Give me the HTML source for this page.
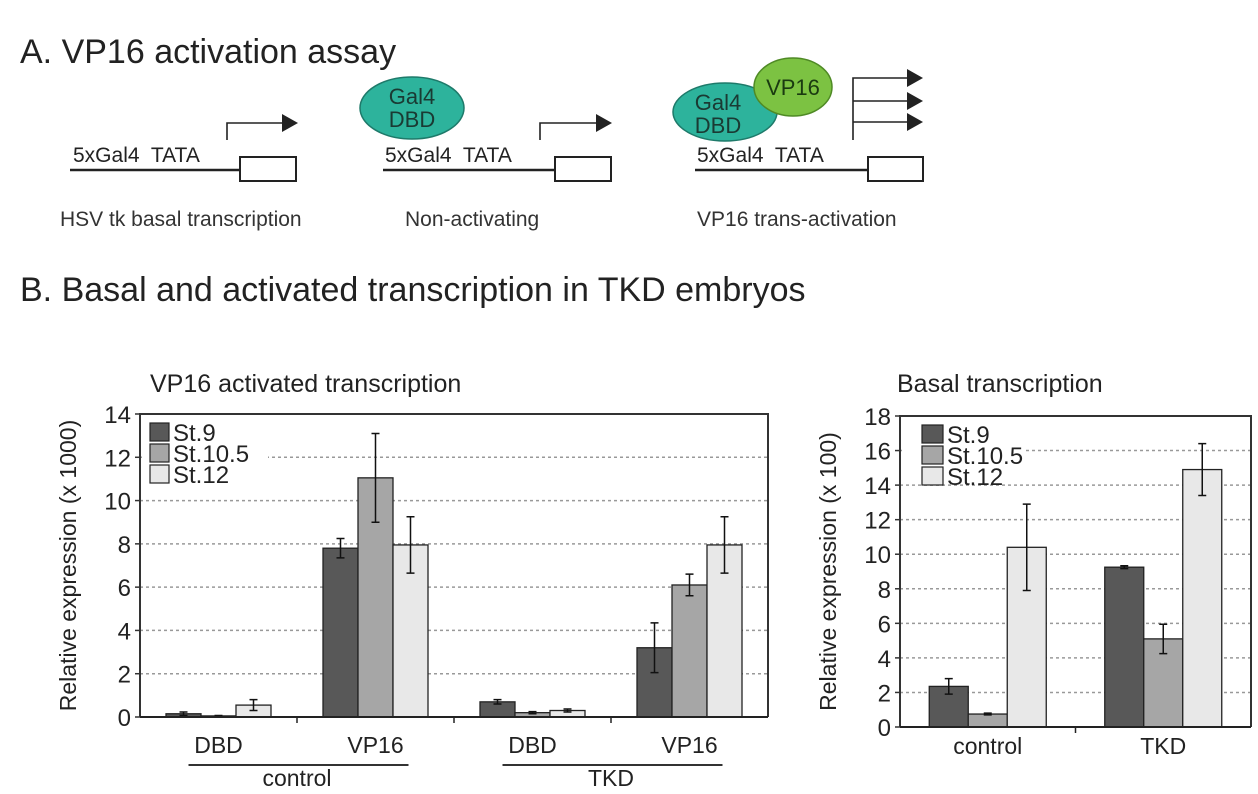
<!DOCTYPE html>
<html><head><meta charset="utf-8">
<style>
html,body{margin:0;padding:0;background:#fff;}
svg{display:block;font-family:"Liberation Sans",Arial,sans-serif;}
</style></head>
<body>
<svg id="fig" width="1258" height="794" viewBox="0 0 1258 794" xmlns="http://www.w3.org/2000/svg">
<g>
<text x="20" y="63" font-size="34" fill="#222">A. VP16 activation assay</text>
<g>
<line x1="70" y1="170" x2="240" y2="170" stroke="#222" stroke-width="2.5"/>
<rect x="240" y="157" width="56" height="24" fill="#fff" stroke="#222" stroke-width="2"/>
<text x="73" y="162" font-size="21" fill="#222" xml:space="preserve" style="white-space:pre">5xGal4  TATA</text>
<polyline points="227,140 227,123 282,123" fill="none" stroke="#222" stroke-width="1.6"/>
<polygon points="282,114 298,123 282,132" fill="#222"/>
<text x="60" y="226" font-size="21" fill="#333">HSV tk basal transcription</text>
</g>
<g>
<ellipse cx="412" cy="108" rx="52" ry="31" fill="#2db39c" stroke="#1e7a6a" stroke-width="1.5"/>
<text x="412" y="104" font-size="22" fill="#1a3a33" text-anchor="middle">Gal4</text>
<text x="412" y="127" font-size="22" fill="#1a3a33" text-anchor="middle">DBD</text>
<line x1="383" y1="170" x2="555" y2="170" stroke="#222" stroke-width="2.5"/>
<rect x="555" y="157" width="56" height="24" fill="#fff" stroke="#222" stroke-width="2"/>
<text x="385" y="162" font-size="21" fill="#222" xml:space="preserve" style="white-space:pre">5xGal4  TATA</text>
<polyline points="540,140 540,123 596,123" fill="none" stroke="#222" stroke-width="1.6"/>
<polygon points="596,114 612,123 596,132" fill="#222"/>
<text x="405" y="226" font-size="21" fill="#333">Non-activating</text>
</g>
<g>
<ellipse cx="725" cy="112" rx="52" ry="29" fill="#2db39c" stroke="#1e7a6a" stroke-width="1.5"/>
<ellipse cx="793" cy="87" rx="39" ry="29" fill="#7cc242" stroke="#4f8a25" stroke-width="1.5"/>
<text x="718" y="110" font-size="22" fill="#1a3a33" text-anchor="middle">Gal4</text>
<text x="718" y="133" font-size="22" fill="#1a3a33" text-anchor="middle">DBD</text>
<text x="793" y="95" font-size="22" fill="#1a3a10" text-anchor="middle">VP16</text>
<line x1="695" y1="170" x2="868" y2="170" stroke="#222" stroke-width="2.5"/>
<rect x="868" y="157" width="55" height="24" fill="#fff" stroke="#222" stroke-width="2"/>
<text x="697" y="162" font-size="21" fill="#222" xml:space="preserve" style="white-space:pre">5xGal4  TATA</text>
<polyline points="853,140 853,78 908,78" fill="none" stroke="#222" stroke-width="1.6"/>
<line x1="853" y1="101" x2="908" y2="101" stroke="#222" stroke-width="1.6"/>
<line x1="853" y1="122" x2="908" y2="122" stroke="#222" stroke-width="1.6"/>
<polygon points="907,69 923,78 907,87" fill="#222"/>
<polygon points="907,92 923,101 907,110" fill="#222"/>
<polygon points="907,113 923,122 907,131" fill="#222"/>
<text x="697" y="226" font-size="21" fill="#333">VP16 trans-activation</text>
</g>
</g>
<text x="20" y="301" font-size="34" fill="#222">B. Basal and activated transcription in TKD embryos</text>
<g id="left"></g>
<g id="right"></g>
</svg>
<script>
// Left chart data
const leftCats = ["DBD", "VP16", "DBD", "VP16"];
const leftGroups = ["control", "TKD"];
const leftSt9 = [0.15, 7.8, 0.7, 3.2];
const leftSt105 = [0.05, 11.05, 0.2, 6.1];
const leftSt12 = [0.55, 7.95, 0.3, 7.95];
const leftErr9 = [0.08, 0.45, 0.1, 1.15];
const leftErr105 = [0.02, 2.05, 0.05, 0.5];
const leftErr12 = [0.25, 1.3, 0.07, 1.3];
const leftTicks = [0, 2, 4, 6, 8, 10, 12, 14];
// Right chart data
const rightCats = ["control", "TKD"];
const rightSt9 = [2.35, 9.25];
const rightSt105 = [0.75, 5.1];
const rightSt12 = [10.4, 14.9];
const rightErr9 = [0.45, 0.08];
const rightErr105 = [0.05, 0.85];
const rightErr12 = [2.5, 1.5];
const rightTicks = [0, 2, 4, 6, 8, 10, 12, 14, 16, 18];
const seriesNames = ["St.9", "St.10.5", "St.12"];

const NS = "http://www.w3.org/2000/svg";
const colors = ["#585858", "#a6a6a6", "#e8e8e8"];
function mk(parent, tag, attrs, text) {
  const e = document.createElementNS(NS, tag);
  for (const k in attrs) e.setAttribute(k, attrs[k]);
  if (text !== undefined) e.textContent = text;
  parent.appendChild(e);
  return e;
}
function chart(g, o) {
  const yS = v => o.y0 - (v - o.min) / (o.max - o.min) * (o.y0 - o.y1);
  const catW = (o.x1 - o.x0) / o.cats.length;
  const xC = i => o.x0 + catW * (i + 0.5);
  o.ticks.forEach(t => {
    if (t !== o.min && t !== o.max) {
      const gl = mk(g, "line", {x1: o.x0, x2: o.x1, y1: yS(t), y2: yS(t), stroke: "#999", "stroke-width": 1.5, "stroke-dasharray": "3,3"});
      
      
    }
    const tl = mk(g, "text", {x: o.x0 - 9, y: yS(t) + 9, "font-size": 24, "text-anchor": "end", fill: "#222"}, t);
    
    
    mk(g, "line", {x1: o.x0 - 5, x2: o.x0, y1: yS(t), y2: yS(t), stroke: "#333", "stroke-width": 1.5});
  });
  const lb = mk(g, "rect", {x: o.x0 + 2, y: o.y1 + 2, width: o.legW, height: 66, fill: "#fff"});
  
  
  const series = [o.s9, o.s105, o.s12], errs = [o.e9, o.e105, o.e12];
  series.forEach((arr, s) => {
    arr.forEach((v, i) => {
      const x = xC(i) - 1.5 * o.bw + s * o.bw;
      const r = mk(g, "rect", {x: x, y: yS(v), width: o.bw, height: yS(0) - yS(v), fill: colors[s], stroke: "#222", "stroke-width": 1.3});
      
      
      const cx = x + o.bw / 2, e = errs[s][i];
      const eb = mk(g, "path", {d: `M${cx} ${yS(v + e)}V${yS(v - e)}M${cx - 4} ${yS(v + e)}H${cx + 4}M${cx - 4} ${yS(v - e)}H${cx + 4}`, stroke: "#111", "stroke-width": 1.5, fill: "none"});
      
      
    });
  });
  mk(g, "path", {d: `M${o.x0} ${o.y0}V${o.y1}H${o.x1}V${o.y0}`, fill: "none", stroke: "#333", "stroke-width": 2});
  mk(g, "line", {x1: o.x0, x2: o.x1, y1: o.y0, y2: o.y0, stroke: "#222", "stroke-width": 2});
  for (let i = 1; i < o.cats.length; i++) mk(g, "line", {x1: o.x0 + catW * i, x2: o.x0 + catW * i, y1: o.y0, y2: o.y0 + 6, stroke: "#222", "stroke-width": 1.5});
  o.cats.forEach((c, i) => {
    const t = mk(g, "text", {x: xC(i), y: o.catY, "font-size": 23, "text-anchor": "middle", fill: "#222"}, c);
    
    
  });
  seriesNames.forEach((n, s) => {
    const y = o.y1 + 9 + s * 21;
    const sw = mk(g, "rect", {x: o.legX, y: y, width: o.legSW, height: 18, fill: colors[s], stroke: "#222", "stroke-width": 1.2});
    
    
    const lt = mk(g, "text", {x: o.legX + o.legSW + 4, y: y + 18, "font-size": 24, fill: "#222"}, n);
    
    
  });
  const ty = mk(g, "text", {transform: `translate(${o.ytX},${(o.y0 + o.y1) / 2}) rotate(-90)`, "font-size": 23, "text-anchor": "middle", fill: "#222"}, o.ytitle);
  
  
  const tt = mk(g, "text", {x: o.titleX, y: 392, "font-size": 25, fill: "#222"}, o.title);
  
  
  return {xC, catW};
}
const L = document.getElementById("left");
const lr = chart(L, {x0: 140, x1: 768, y0: 717, y1: 414, min: 0, max: 14, ticks: leftTicks, cats: leftCats,
  s9: leftSt9, s105: leftSt105, s12: leftSt12, e9: leftErr9, e105: leftErr105, e12: leftErr12, bw: 35,
  catY: 753, legX: 150, legSW: 19, legW: 126, ytX: 76, ytitle: "Relative expression (x 1000)", titleX: 150, title: "VP16 activated transcription"});
leftGroups.forEach((gname, k) => {
  const a = lr.xC(2 * k), b = lr.xC(2 * k + 1);
  const ul = mk(L, "line", {x1: a - 30, x2: b + 33, y1: 765, y2: 765, stroke: "#333", "stroke-width": 2});
  
  
  const gt = mk(L, "text", {x: (a + b) / 2, y: 786, "font-size": 23, "text-anchor": "middle", fill: "#222"}, gname);
  
  
});
const R = document.getElementById("right");
chart(R, {x0: 900, x1: 1251, y0: 727, y1: 416, min: 0, max: 18, ticks: rightTicks, cats: rightCats,
  s9: rightSt9, s105: rightSt105, s12: rightSt12, e9: rightErr9, e105: rightErr105, e12: rightErr12, bw: 39,
  catY: 754, legX: 922, legSW: 21, legW: 122, ytX: 836, ytitle: "Relative expression (x 100)", titleX: 897, title: "Basal transcription"});
</script>
</body></html>
